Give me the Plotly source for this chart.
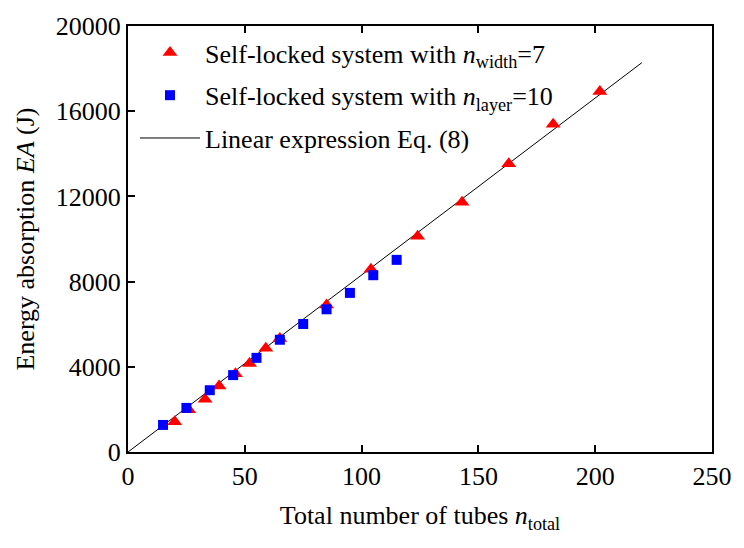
import plotly.graph_objects as go

# Self-locked system with n_width = 7 (varying number of layers)
n_width7 = [20, 26, 33, 39, 46, 52, 59, 65, 85, 104, 124, 143, 163, 182, 202]
ea_width7 = [1420, 1980, 2480, 3100, 3670, 4160, 4870, 5330, 6900, 8580,
             10130, 11720, 13530, 15390, 16930]

# Self-locked system with n_layer = 10 (varying width)
n_layer10 = [15, 25, 35, 45, 55, 65, 75, 85, 95, 105, 115]
ea_layer10 = [1270, 2070, 2900, 3610, 4420, 5270, 6010, 6700, 7470, 8300, 9020]

# Linear expression Eq. (8), drawn between its two end points
line_n = [0, 220]
line_ea = [0, 18280]

x_ticks = [0, 50, 100, 150, 200, 250]
y_ticks = [0, 4000, 8000, 12000, 16000, 20000]
y_tick_text = ["0", "4000", "8000", "12000", "16000", "20000"]

FONT = "Liberation Serif"
FS = 26

fig = go.Figure()
fig.add_trace(go.Scatter(
    x=line_n, y=line_ea, mode="lines",
    line=dict(color="black", width=1),
    name="Linear expression Eq. (8)", legendrank=3, legendgroup="c",
))
fig.add_trace(go.Scatter(
    x=n_width7, y=ea_width7, mode="markers",
    marker=dict(symbol="triangle-up", size=13, color="#ff0000", line=dict(width=0)),
    name="Self-locked system with <i>n</i><sub>width</sub>=7", legendrank=1, legendgroup="a",
))
fig.add_trace(go.Scatter(
    x=n_layer10, y=ea_layer10, mode="markers",
    marker=dict(symbol="square", size=10, color="#0000ff", line=dict(width=0)),
    name="Self-locked system with <i>n</i><sub>layer</sub>=10", legendrank=2, legendgroup="b",
))

axis_common = dict(
    showline=True, linecolor="black", linewidth=2,
    ticks="inside", ticklen=7, tickwidth=1.5, tickcolor="black",
    showgrid=False, zeroline=False,
    tickfont=dict(family=FONT, size=FS, color="black"),
)

fig.update_layout(
    width=744, height=548,
    margin=dict(l=128, r=25, t=19, b=96),
    paper_bgcolor="white", plot_bgcolor="white",
    font=dict(family=FONT, size=FS, color="black"),
    xaxis=dict(
        range=[0, 250], tickvals=x_ticks, mirror="ticks",
        title=dict(text="Total number of tubes <i>n</i><sub>total</sub>",
                   font=dict(family=FONT, size=FS), standoff=16),
        **axis_common,
    ),
    yaxis=dict(
        range=[0, 20000], tickvals=y_ticks, ticktext=y_tick_text, mirror=True,
        title=dict(text="Energy absorption <i>EA</i> (J)",
                   font=dict(family=FONT, size=FS), standoff=14),
        **axis_common,
    ),
    legend=dict(
        x=0.012, y=0.993, xanchor="left", yanchor="top",
        bgcolor="rgba(0,0,0,0)", borderwidth=0,
        font=dict(family=FONT, size=FS, color="black"),
        tracegroupgap=6, itemwidth=60,
    ),
)

fig.write_html("out.html")
